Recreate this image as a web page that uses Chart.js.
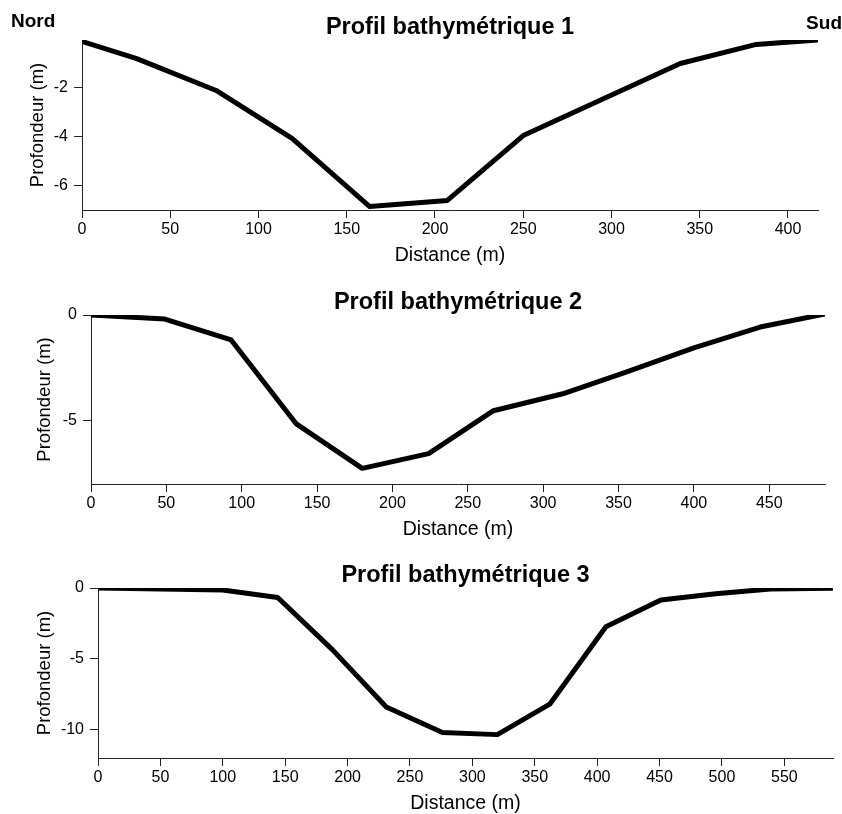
<!DOCTYPE html>
<html lang="fr">
<head>
<meta charset="utf-8">
<title>Profils bathymétriques</title>
<script src="https://cdn.jsdelivr.net/npm/chart.js@4"></script>
<style>
  html, body { margin: 0; padding: 0; background: #fff; }
  #wrap { position: relative; width: 842px; height: 814px; }
  canvas { position: absolute; left: 0; }
</style>
</head>
<body>
<div id="wrap">
  <canvas id="profil1" width="842" height="275" style="top:0"></canvas>
  <canvas id="profil2" width="842" height="273" style="top:275px"></canvas>
  <canvas id="profil3" width="842" height="266" style="top:548px"></canvas>
</div>
<script>
// Profil 1 (Nord -> Sud)
const dist1 = [0, 31, 76, 119, 163, 207, 250, 339, 382, 417];
const depth1 = [-0.12, -0.82, -2.12, -4.08, -6.86, -6.61, -3.96, -1.02, -0.24, -0.06];
const xTicks1 = [0, 50, 100, 150, 200, 250, 300, 350, 400];
const yTicks1 = [-6, -4, -2];

// Profil 2
const dist2 = [0, 49, 93, 136, 180, 224, 267, 313, 355, 400, 444, 487];
const depth2 = [0, -0.19, -1.18, -5.14, -7.26, -6.56, -4.53, -3.73, -2.7, -1.56, -0.57, 0.05];
const xTicks2 = [0, 50, 100, 150, 200, 250, 300, 350, 400, 450];
const yTicks2 = [-5, 0];

// Profil 3
const dist3 = [0, 100, 144, 188, 231, 276, 320, 362, 407, 451, 495, 539, 589];
const depth3 = [0, -0.14, -0.67, -4.37, -8.4, -10.2, -10.35, -8.2, -2.74, -0.85, -0.4, -0.07, -0.02];
const xTicks3 = [0, 50, 100, 150, 200, 250, 300, 350, 400, 450, 500, 550];
const yTicks3 = [-10, -5, 0];

const FONT = '"Liberation Sans", Arial, Helvetica, sans-serif';
const AXIS = '#222';

// Draws the "Nord" / "Sud" labels at the ends of the first profile
const endLabels = {
  id: 'endLabels',
  afterDraw(chart, args, opts) {
    if (!opts.left) return;
    const ctx = chart.ctx;
    ctx.save();
    ctx.font = 'bold 19px ' + FONT;
    ctx.fillStyle = '#000';
    ctx.textBaseline = 'middle';
    ctx.textAlign = 'left';
    ctx.fillText(opts.left, 11, 22);
    ctx.textAlign = 'right';
    ctx.fillText(opts.right, 842, 24);
    ctx.restore();
  }
};

function buildProfile(id, title, dist, depth, xTicks, yTicks, xRange, yRange, box, ends) {
  const canvas = document.getElementById(id);
  const ctx = canvas.getContext('2d');
  if (!ctx) {
    console.error('Cannot get canvas context');
    return null;
  }

  return new Chart(ctx, {
    type: 'line',
    data: {
      datasets: [{
        data: dist.map((d, i) => ({ x: d, y: depth[i] })),
        borderColor: '#000',
        borderWidth: 5,
        pointRadius: 0,
        borderJoinStyle: 'round',
        borderCapStyle: 'round',
        tension: 0,
        fill: false
      }]
    },
    options: {
      responsive: false,
      animation: false,
      layout: {
        padding: { top: 0, left: 0, right: 842 - box.right, bottom: canvas.height - box.bottom - 56 }
      },
      plugins: {
        legend: { display: false },
        tooltip: { enabled: false },
        title: {
          display: true,
          text: title,
          fullSize: false,
          color: '#000',
          font: { family: FONT, size: 23.5, weight: 'bold', lineHeight: 1 },
          padding: { top: 16, bottom: 0.5 }
        },
        endLabels: ends || {}
      },
      scales: {
        x: {
          type: 'linear',
          min: xRange[0],
          max: xRange[1],
          afterBuildTicks: scale => { scale.ticks = xTicks.map(v => ({ value: v })); },
          afterFit: scale => { scale.height = 56; },
          grid: { drawOnChartArea: false, drawTicks: true, tickLength: 8, color: AXIS },
          border: { display: true, color: AXIS, width: 1 },
          ticks: {
            color: '#000',
            font: { family: FONT, size: 16, lineHeight: 1 },
            padding: 4,
            maxRotation: 0,
            autoSkip: false
          },
          title: {
            display: true,
            text: 'Distance (m)',
            color: '#000',
            font: { family: FONT, size: 19.5, lineHeight: 1 },
            padding: { top: 0, bottom: 0.25 }
          }
        },
        y: {
          type: 'linear',
          min: yRange[0],
          max: yRange[1],
          afterBuildTicks: scale => { scale.ticks = yTicks.map(v => ({ value: v })); },
          afterFit: scale => { scale.width = box.left; },
          grid: { drawOnChartArea: false, drawTicks: true, tickLength: 8, color: AXIS },
          border: { display: true, color: AXIS, width: 1 },
          ticks: {
            color: '#000',
            font: { family: FONT, size: 16, lineHeight: 1 },
            padding: 6,
            autoSkip: false
          },
          title: {
            display: true,
            text: 'Profondeur (m)',
            color: '#000',
            font: { family: FONT, size: 18.5, lineHeight: 1 },
            padding: { top: box.yTitleX - 9.25, bottom: 0 }
          }
        }
      }
    },
    plugins: [endLabels]
  });
}

buildProfile('profil1', 'Profil bathymétrique 1', dist1, depth1, xTicks1, yTicks1,
  [0, 417], [-7, -0.06], { left: 82, right: 818, bottom: 210, yTitleX: 38 },
  { left: 'Nord', right: 'Sud' });

buildProfile('profil2', 'Profil bathymétrique 2', dist2, depth2, xTicks2, yTicks2,
  [0, 487], [-8, 0], { left: 91, right: 825, bottom: 209, yTitleX: 45 });

buildProfile('profil3', 'Profil bathymétrique 3', dist3, depth3, xTicks3, yTicks3,
  [0, 589], [-12, 0], { left: 98, right: 833, bottom: 210, yTitleX: 45 });
</script>
</body>
</html>
